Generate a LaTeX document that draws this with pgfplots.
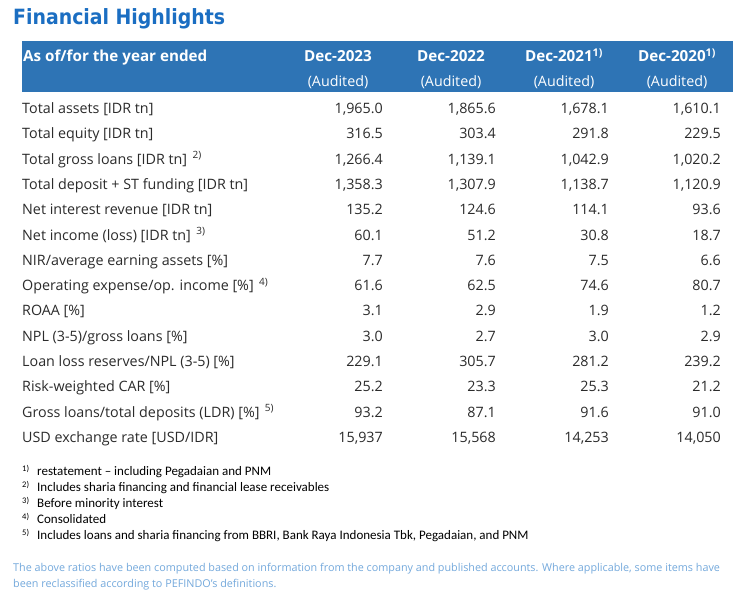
\documentclass[border=0pt]{standalone}
\usepackage{fontspec}
\setmainfont{Open Sans}
\newfontfamily\titlefont{DejaVu Sans Condensed}
\newfontfamily\notefont{Carlito}
\usepackage{pgfplots}
\usepackage{pgfplotstable}
\pgfplotsset{compat=1.18}
\definecolor{hdr}{HTML}{2E74B5}
\definecolor{ttl}{HTML}{1B6EC2}
\definecolor{bodytxt}{HTML}{2B2B2B}
\definecolor{note}{HTML}{74A9DC}
\newcommand\fn[1]{\textsuperscript{\,#1)}}

\pgfplotstableread{
y v23 v22 v21 v20
113.5 1,965.0 1,865.6 1,678.1 1,610.1
138.8 316.5 303.4 291.8 229.5
164.1 1,266.4 1,139.1 1,042.9 1,020.2
189.4 1,358.3 1,307.9 1,138.7 1,120.9
214.7 135.2 124.6 114.1 93.6
240.0 60.1 51.2 30.8 18.7
265.3 7.7 7.6 7.5 6.6
290.6 61.6 62.5 74.6 80.7
315.9 3.1 2.9 1.9 1.2
341.2 3.0 2.7 3.0 2.9
366.5 229.1 305.7 281.2 239.2
391.8 25.2 23.3 25.3 21.2
417.1 93.2 87.1 91.6 91.0
442.4 15,937 15,568 14,253 14,050
}\fin

\pgfplotstableread{
y label
113.5 {Total assets [IDR tn]}
138.8 {Total equity [IDR tn]}
164.1 {Total gross loans [IDR tn] \fn{2}}
189.4 {Total deposit + ST funding [IDR tn]}
214.7 {Net interest revenue [IDR tn]}
240.0 {Net income (loss) [IDR tn] \fn{3}}
265.3 {NIR/average earning assets [\%]}
290.6 {Operating expense/op. income [\%] \fn{4}}
315.9 {ROAA [\%]}
341.2 {NPL (3-5)/gross loans [\%]}
366.5 {Loan loss reserves/NPL (3-5) [\%]}
391.8 {Risk-weighted CAR [\%]}
417.1 {Gross loans/total deposits (LDR) [\%] \fn{5}}
442.4 {USD exchange rate [USD/IDR]}
}\rowlabels

\pgfplotsset{
  txtplot/.style={only marks, mark=text, text mark={},
    point meta=explicit symbolic, nodes near coords,
    every node near coord/.append style={anchor=base #1, inner sep=0pt,
      text=bodytxt, font=\fontsize{14.3}{16}\selectfont}},
}

\begin{document}
\begin{tikzpicture}
\begin{axis}[scale only axis, width=749pt, height=591pt,
  xmin=0, xmax=749, ymin=0, ymax=591, y dir=reverse,
  hide axis, clip=false, anchor=south west, at={(0,0)}]
\fill[white] (axis cs:0,0) rectangle (axis cs:749,591);
\fill[hdr] (axis cs:22,41) rectangle (axis cs:733,92);
\node[anchor=base west, inner sep=0pt, text=ttl,
  font=\titlefont\bfseries\fontsize{21}{24}\selectfont] at (axis cs:13,25) {Financial Highlights};
% header
\node[inner sep=0pt, text=white, anchor=base west, font=\bfseries\fontsize{15.2}{17}\selectfont] at (axis cs:23,62) {As of/for the year ended};
\node[inner sep=0pt, text=white, anchor=base, font=\bfseries\fontsize{15.2}{17}\selectfont] at (axis cs:338,62) {Dec-2023};
\node[inner sep=0pt, text=white, anchor=base, font=\bfseries\fontsize{15.2}{17}\selectfont] at (axis cs:451,62) {Dec-2022};
\node[inner sep=0pt, text=white, anchor=base, font=\bfseries\fontsize{15.2}{17}\selectfont] at (axis cs:564,62) {Dec-2021\textsuperscript{1)}};
\node[inner sep=0pt, text=white, anchor=base, font=\bfseries\fontsize{15.2}{17}\selectfont] at (axis cs:677,62) {Dec-2020\textsuperscript{1)}};
\node[inner sep=0pt, text=white, anchor=base, font=\fontsize{14.3}{16}\selectfont] at (axis cs:338,87) {(Audited)};
\node[inner sep=0pt, text=white, anchor=base, font=\fontsize{14.3}{16}\selectfont] at (axis cs:451,87) {(Audited)};
\node[inner sep=0pt, text=white, anchor=base, font=\fontsize{14.3}{16}\selectfont] at (axis cs:564,87) {(Audited)};
\node[inner sep=0pt, text=white, anchor=base, font=\fontsize{14.3}{16}\selectfont] at (axis cs:677,87) {(Audited)};
% body
\addplot[txtplot=west] table[x expr=22, y=y, meta=label] {\rowlabels};
\addplot[txtplot=east] table[x expr=383, y=y, meta=v23] {\fin};
\addplot[txtplot=east] table[x expr=496, y=y, meta=v22] {\fin};
\addplot[txtplot=east] table[x expr=609, y=y, meta=v21] {\fin};
\addplot[txtplot=east] table[x expr=721, y=y, meta=v20] {\fin};
% footnotes
\node[inner sep=0pt, anchor=base west, font=\notefont\fontsize{8.5}{9}\selectfont] at (axis cs:22,471) {1)};
\node[inner sep=0pt, anchor=base west, font=\notefont\fontsize{13}{14}\selectfont] at (axis cs:37,475) {restatement – including Pegadaian and PNM};
\node[inner sep=0pt, anchor=base west, font=\notefont\fontsize{8.5}{9}\selectfont] at (axis cs:22,487) {2)};
\node[inner sep=0pt, anchor=base west, font=\notefont\fontsize{13}{14}\selectfont] at (axis cs:37,491) {Includes sharia financing and financial lease receivables};
\node[inner sep=0pt, anchor=base west, font=\notefont\fontsize{8.5}{9}\selectfont] at (axis cs:22,503) {3)};
\node[inner sep=0pt, anchor=base west, font=\notefont\fontsize{13}{14}\selectfont] at (axis cs:37,507) {Before minority interest};
\node[inner sep=0pt, anchor=base west, font=\notefont\fontsize{8.5}{9}\selectfont] at (axis cs:22,519) {4)};
\node[inner sep=0pt, anchor=base west, font=\notefont\fontsize{13}{14}\selectfont] at (axis cs:37,523) {Consolidated};
\node[inner sep=0pt, anchor=base west, font=\notefont\fontsize{8.5}{9}\selectfont] at (axis cs:22,535) {5)};
\node[inner sep=0pt, anchor=base west, font=\notefont\fontsize{13}{14}\selectfont] at (axis cs:37,539) {Includes loans and sharia financing from BBRI, Bank Raya Indonesia Tbk, Pegadaian, and PNM};
\node[inner sep=0pt, anchor=base west, text=note, font=\fontsize{10.8}{14}\selectfont] at (axis cs:13,571) {The above ratios have been computed based on information from the company and published accounts. Where applicable, some items have};
\node[inner sep=0pt, anchor=base west, text=note, font=\fontsize{10.8}{14}\selectfont] at (axis cs:13,587) {been reclassified according to PEFINDO's definitions.};
\end{axis}
\pgfresetboundingbox
\path[use as bounding box] (0,0) rectangle (749pt,591pt);
\end{tikzpicture}
\end{document}
